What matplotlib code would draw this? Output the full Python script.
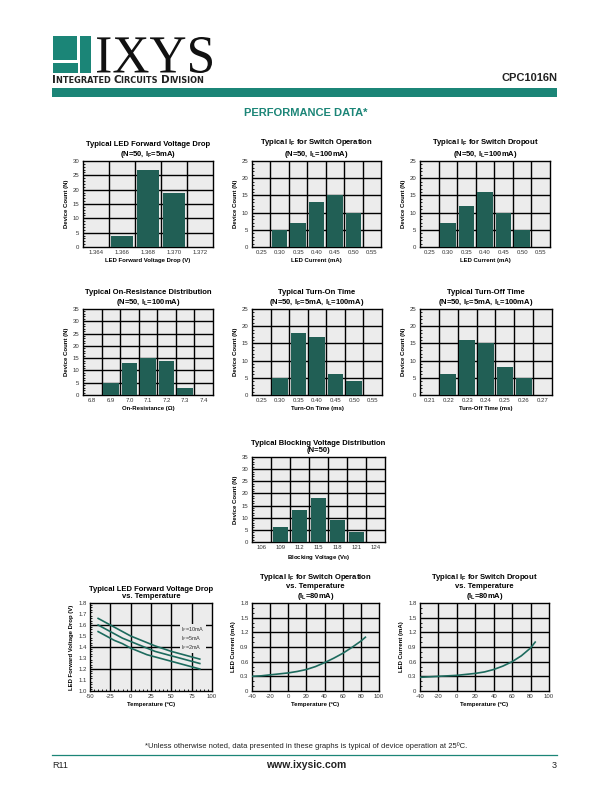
import matplotlib.pyplot as plt
import numpy as np
from matplotlib.patches import Rectangle, PathPatch
from matplotlib.textpath import TextPath
from matplotlib.font_manager import FontProperties
from matplotlib.transforms import Affine2D
from matplotlib.ticker import MultipleLocator
from matplotlib.offsetbox import TextArea, HPacker, AnnotationBbox

plt.rcParams['font.family'] = ['Liberation Sans', 'DejaVu Sans']
plt.rcParams['mathtext.fontset'] = 'custom'
plt.rcParams['mathtext.rm'] = 'Liberation Sans'
plt.rcParams['mathtext.bf'] = 'Liberation Sans:bold'
plt.rcParams['mathtext.it'] = 'Liberation Sans:italic'
plt.rcParams['axes.unicode_minus'] = False

vf_cats = ['1.364', '1.366', '1.368', '1.370', '1.372']
vf_counts = [0, 4, 27, 19, 0]

ifon_cats = ['0.25', '0.30', '0.35', '0.40', '0.45', '0.50', '0.55']
ifon_counts = [0, 5, 7, 13, 15, 10, 0]

ifoff_cats = ['0.25', '0.30', '0.35', '0.40', '0.45', '0.50', '0.55']
ifoff_counts = [0, 7, 12, 16, 10, 5, 0]

ron_cats = ['6.8', '6.9', '7.0', '7.1', '7.2', '7.3', '7.4']
ron_counts = [0, 5, 13, 15, 14, 3, 0]

ton_cats = ['0.25', '0.30', '0.35', '0.40', '0.45', '0.50', '0.55']
ton_counts = [0, 5, 18, 17, 6, 4, 0]

toff_cats = ['0.21', '0.22', '0.23', '0.24', '0.25', '0.26', '0.27']
toff_counts = [0, 6, 16, 15, 8, 5, 0]

vb_cats = ['106', '109', '112', '115', '118', '121', '124']
vb_counts = [0, 6, 13, 18, 9, 4, 0]

temp = [-40, -30, -20, -10, 0, 10, 20, 30, 40, 50, 60, 70, 80, 85]
vf_10ma = [1.66, 1.62, 1.58, 1.54, 1.50, 1.47, 1.44, 1.41, 1.385, 1.36, 1.34, 1.32, 1.30, 1.29]
vf_5ma = [1.60, 1.56, 1.52, 1.48, 1.45, 1.42, 1.39, 1.36, 1.34, 1.32, 1.30, 1.28, 1.26, 1.25]
vf_2ma = [1.54, 1.50, 1.46, 1.43, 1.39, 1.36, 1.33, 1.31, 1.29, 1.27, 1.25, 1.23, 1.21, 1.20]
vf_labels = ['10mA', '5mA', '2mA']

if_op_t = [0.30, 0.31, 0.33, 0.35, 0.37, 0.40, 0.44, 0.50, 0.58, 0.67, 0.77, 0.89, 1.02, 1.10]
if_do_t = [0.28, 0.29, 0.30, 0.31, 0.32, 0.34, 0.36, 0.39, 0.44, 0.51, 0.60, 0.72, 0.88, 1.00]

teal = '#1b8577'
bar_col = '#215f55'
line_col = '#1d6b5e'
bg = '#ececec'
W, H = 612, 792

fig = plt.figure(figsize=(W / 100, H / 100), dpi=100)

# page-level drawing in pixel coords
pg = fig.add_axes([0, 0, 1, 1])
pg.set_xlim(0, W)
pg.set_ylim(H, 0)
pg.axis('off')

# logo
pg.add_patch(Rectangle((53, 36), 24, 24, color=teal, lw=0))
pg.add_patch(Rectangle((80, 36), 11, 37, color=teal, lw=0))
pg.add_patch(Rectangle((53, 62.5), 25, 10.5, color=teal, lw=0))

# IXYS word mark, stretched to fit its box
tp = TextPath((0, 0), 'IXYS', size=40, prop=FontProperties(family='Liberation Serif'))
bb = tp.get_extents()
sx = (212 - 97) / bb.width
sy = (73 - 37) / bb.height
tr = Affine2D().translate(-bb.x0, -bb.y0).scale(sx, -sy).translate(97, 73)
pg.add_patch(PathPatch(tr.transform_path(tp), color='#111', lw=0))

parts = [('I', 7.6), ('NTEGRATED ', 5.9), ('C', 7.6), ('IRCUITS ', 5.9), ('D', 7.6), ('IVISION', 5.9)]
boxes = [TextArea(t, textprops=dict(fontsize=s, fontweight='bold', color='#222', family='DejaVu Sans'))
         for t, s in parts]
pk = HPacker(children=boxes, align='baseline', pad=0, sep=0)
pg.add_artist(AnnotationBbox(pk, (52, 85), xycoords='data', box_alignment=(0, 0), frameon=False, pad=0))
pg.text(557, 81, 'CPC1016N', fontsize=8, fontweight='bold', ha='right', va='baseline', color='#222')
pg.add_patch(Rectangle((52, 88), 505, 8.5, color=teal, lw=0))
pg.text(306, 116, 'PERFORMANCE DATA*', fontsize=8, fontweight='bold', ha='center', va='baseline', color=teal)

# footer
pg.text(306, 748, '*Unless otherwise noted, data presented in these graphs is typical of device operation at 25ºC.',
        fontsize=5.5, ha='center', va='baseline', color='#222')
pg.plot([52, 557], [755, 755], color=teal, lw=0.9)
pg.text(52, 768, 'R11', fontsize=6.5, ha='left', va='baseline', color='#222')
pg.text(306, 768, 'www.ixysic.com', fontsize=7.5, fontweight='bold', ha='center', va='baseline', color='#222')
pg.text(557, 768, '3', fontsize=6.5, ha='right', va='baseline', color='#222')


def rect(x0, y0, x1, y1):
    return [x0 / W, 1 - y1 / H, (x1 - x0) / W, (y1 - y0) / H]


def style(ax, title, xlabel, ylabel):
    ax.set_facecolor(bg)
    for s in ax.spines.values():
        s.set_linewidth(1.0)
    ax.tick_params(axis='both', which='major', length=0, labelsize=4.3, labelcolor='#333', pad=2.5)
    ax.tick_params(axis='y', which='minor', length=1.6, width=0.6, direction='in')
    ax.set_title(title, fontsize=5.5, fontweight='bold', pad=3.5, linespacing=1.1)
    ax.set_xlabel(xlabel, fontsize=4.3, fontweight='bold', labelpad=2)
    ax.set_ylabel(ylabel, fontsize=4.3, fontweight='bold', labelpad=3)


def hist(box, cats, counts, ymax, title, xlabel):
    ax = fig.add_axes(rect(*box))
    n = len(cats)
    idx = np.arange(n)
    ax.bar(idx, counts, width=0.84, color=bar_col, zorder=3)
    ax.set_xlim(-0.5, n - 0.5)
    ax.set_ylim(0, ymax)
    for b in idx[:-1] + 0.5:
        ax.axvline(b, color='k', lw=1.0, zorder=2)
    for y in range(5, ymax, 5):
        ax.axhline(y, color='k', lw=1.0, zorder=2)
    ax.set_xticks(idx, cats)
    ax.set_yticks(range(0, ymax + 1, 5))
    ax.yaxis.set_minor_locator(MultipleLocator(1))
    style(ax, title, xlabel, 'Device Count (N)')
    return ax


hist((83, 161, 213, 247), vf_cats, vf_counts, 30,
     'Typical LED Forward Voltage Drop\n(N=50, $\\mathbf{I_F}$=5mA)', 'LED Forward Voltage Drop (V)')
hist((252, 161, 381, 247), ifon_cats, ifon_counts, 25,
     'Typical $\\mathbf{I_F}$ for Switch Operation\n(N=50, $\\mathbf{I_L}$=100mA)', 'LED Current (mA)')
hist((420, 161, 550, 247), ifoff_cats, ifoff_counts, 25,
     'Typical $\\mathbf{I_F}$ for Switch Dropout\n(N=50, $\\mathbf{I_L}$=100mA)', 'LED Current (mA)')
hist((83, 309, 213, 395), ron_cats, ron_counts, 35,
     'Typical On-Resistance Distribution\n(N=50, $\\mathbf{I_L}$=100mA)', 'On-Resistance (Ω)')
hist((252, 309, 382, 395), ton_cats, ton_counts, 25,
     'Typical Turn-On Time\n(N=50, $\\mathbf{I_F}$=5mA, $\\mathbf{I_L}$=100mA)', 'Turn-On Time (ms)')
hist((420, 309, 552, 395), toff_cats, toff_counts, 25,
     'Typical Turn-Off Time\n(N=50, $\\mathbf{I_F}$=5mA, $\\mathbf{I_L}$=100mA)', 'Turn-Off Time (ms)')
hist((252, 457, 385, 542), vb_cats, vb_counts, 35,
     'Typical Blocking Voltage Distribution\n(N=50)', 'Blocking Voltage ($\\mathbf{V_B}$)')


def curves(box, xlim, xstep, ylim, ystep, ygrid, yminor, title, ylabel, fmt):
    ax = fig.add_axes(rect(*box))
    ax.set_xlim(*xlim)
    ax.set_ylim(*ylim)
    ax.set_xticks(np.arange(xlim[0], xlim[1] + 1, xstep))
    ax.set_yticks(np.arange(ylim[0], ylim[1] + 1e-9, ystep))
    ax.set_yticklabels([fmt.format(v) for v in np.arange(ylim[0], ylim[1] + 1e-9, ystep)])
    for x in np.arange(xlim[0] + xstep, xlim[1], xstep):
        ax.axvline(x, color='k', lw=1.0, zorder=1)
    for y in np.arange(ylim[0] + ygrid, ylim[1] - 1e-9, ygrid):
        ax.axhline(y, color='k', lw=1.0, zorder=1)
    ax.yaxis.set_minor_locator(MultipleLocator(yminor))
    style(ax, title, 'Temperature (ºC)', ylabel)
    return ax


ax8 = curves((90, 603, 212, 691), (-50, 100), 25, (1.0, 1.8), 0.1, 0.2, 0.02,
             'Typical LED Forward Voltage Drop\nvs. Temperature', 'LED Forward Voltage Drop (V)', '{:.1f}')
ax8.xaxis.set_minor_locator(MultipleLocator(5))
ax8.tick_params(axis='x', which='minor', length=1.6, width=0.6, direction='in')
for ys in (vf_10ma, vf_5ma, vf_2ma):
    ax8.plot(temp, ys, color=line_col, lw=1.2, zorder=3)
ax8.text(62, 1.48, '\n'.join('I$_F$=' + s for s in vf_labels), fontsize=4.0, color='#333',
         zorder=4, va='center', linespacing=1.0,
         bbox=dict(facecolor=bg, edgecolor='none', pad=0.8))

ax9 = curves((252, 603, 379, 691), (-40, 100), 20, (0, 1.8), 0.3, 0.3, 0.1,
             'Typical $\\mathbf{I_F}$ for Switch Operation\nvs. Temperature\n($\\mathbf{I_L}$=80mA)',
             'LED Current (mA)', '{:.1f}')
ax9.plot(temp, if_op_t, color=line_col, lw=1.2, zorder=3)

ax10 = curves((420, 603, 549, 691), (-40, 100), 20, (0, 1.8), 0.3, 0.3, 0.1,
              'Typical $\\mathbf{I_F}$ for Switch Dropout\nvs. Temperature\n($\\mathbf{I_L}$=80mA)',
              'LED Current (mA)', '{:.1f}')
ax10.plot(temp, if_do_t, color=line_col, lw=1.2, zorder=3)
for a in (ax9, ax10):
    a.set_yticklabels(['0', '0.3', '0.6', '0.9', '1.2', '1.5', '1.8'])

fig.savefig('out.png', dpi=100)
